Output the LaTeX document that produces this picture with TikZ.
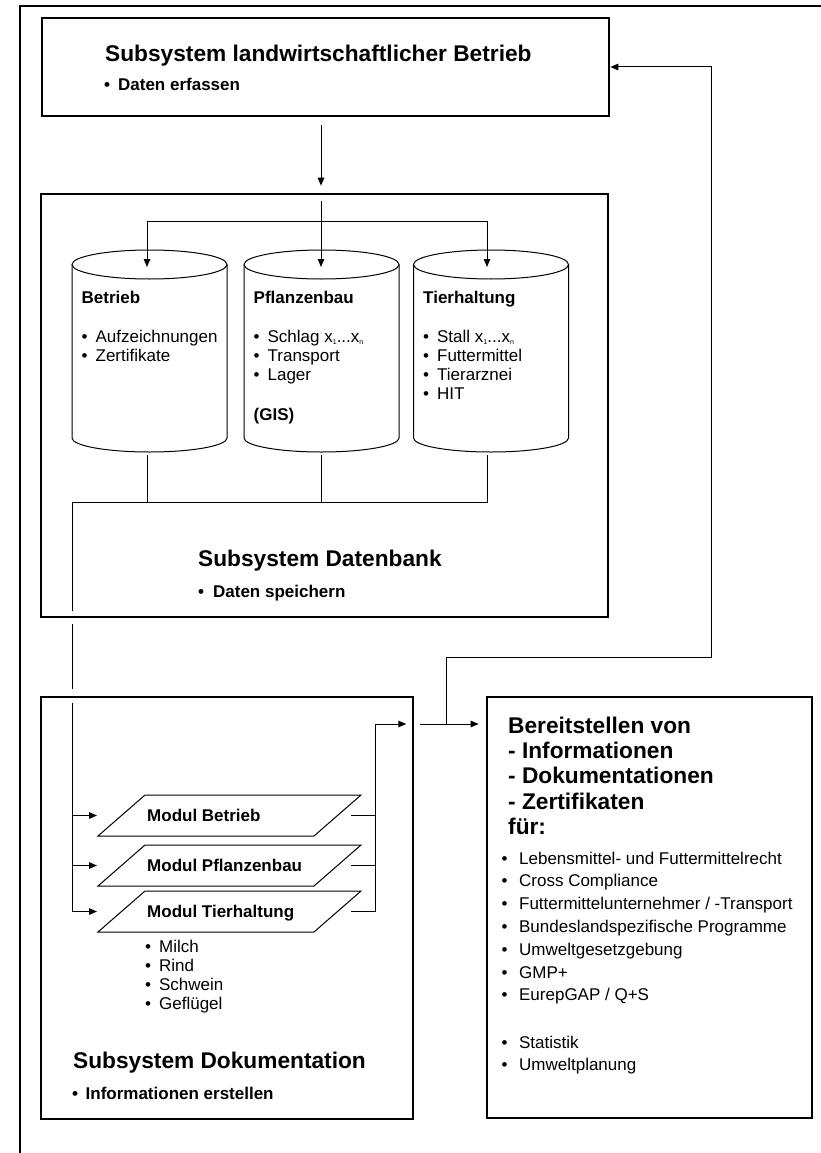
\documentclass[tikz,border=0pt]{standalone}
\usepackage{fontspec}
\setmainfont{Liberation Sans}
\usetikzlibrary{arrows.meta}
\newcommand{\bul}[1][8pt]{\textbullet\hspace{#1}}
\newcommand{\tinysub}[1]{\raisebox{-2pt}{\fontsize{7}{7}\selectfont #1}}
\newcommand{\xrange}[1]{#1\tinysub{1}...#1\tinysub{n}}

\tikzset{
  box/.style={draw, line width=2.6pt, inner sep=0pt},
  conn/.style={line width=1pt},
  arr/.style={conn, -{Triangle[length=8pt,width=6.5pt]}},
  title/.style={font=\fontsize{22.7}{25.4}\selectfont\bfseries, anchor=base west, inner sep=0pt},
  head/.style={font=\fontsize{17}{19}\selectfont\bfseries, anchor=base west, inner sep=0pt},
  txt/.style={font=\fontsize{17}{19}\selectfont, anchor=base west, inner sep=0pt},
}

\begin{document}
\begin{tikzpicture}[x=1pt, y=-1pt]
  \useasboundingbox (0,0) rectangle (821,1153);
  % Frame
  \draw[line width=1.8pt] (20,1153) -- (20,6) -- (821,6);

  % Subsystems
  \node[box, minimum width=567pt, minimum height=98pt] (farm) at (325.5,67) {};
  \node[box, minimum width=567pt, minimum height=423pt] (db) at (324.5,405.5) {};
  \node[box, minimum width=372pt, minimum height=422pt] (doc) at (227,908) {};
  \node[box, minimum width=325pt, minimum height=421pt] (info) at (649.5,907.5) {};

  \node[title] (farmT) at (105,62) {Subsystem landwirtschaftlicher Betrieb};
  \node[head] (farmB) at (104,91) {\bul Daten erfassen};
  \node[title] (dbT) at (198,566) {Subsystem Datenbank};
  \node[head] (dbB) at (198,597) {\bul[9pt]Daten speichern};
  \node[title] (docT) at (73,1068) {Subsystem Dokumentation};
  \node[head] (docB) at (72,1099) {\bul[7.5pt]Informationen erstellen};

  % Databases
  \foreach \n/\cx/\hd in {B/149.5/Betrieb, P/321.5/Pflanzenbau, T/491/Tierhaltung} {
    \draw[conn] (\cx-77.5,264.5) -- (\cx-77.5,438)
      arc[start angle=180, end angle=0, x radius=77.5, y radius=14] -- (\cx+77.5,264.5);
    \draw[conn] (\cx,264.5) ellipse [x radius=77.5, y radius=14.5];
    \node[head] (h\n) at (\cx-68,303) {\hd};
  }
  \foreach \t [count=\k] in {Aufzeichnungen, Zertifikate}
    \node[txt] (lB\k) at (81.5,323+19*\k) {\bul \t};
  \foreach \t [count=\k] in {Schlag \xrange{x}, Transport, Lager}
    \node[txt] (lP\k) at (253.5,323+19*\k) {\bul \t};
  \node[head] (gis) at (253.5,420) {(GIS)};
  \foreach \t [count=\k] in {Stall \xrange{x}, Futtermittel, Tierarznei, HIT}
    \node[txt] (lT\k) at (423,323+19*\k) {\bul \t};

  \coordinate (tB) at (147,267);
  \coordinate (tP) at (321,267);
  \coordinate (tT) at (487,267);
  \coordinate (split) at (321,221);
  \coordinate (bB) at (147,455);
  \coordinate (bP) at (321,455);
  \coordinate (bT) at (487,455);
  \coordinate (busL) at (72,502);

  \draw[arr] ([yshift=-8pt]farm.south -| tP) -- ([yshift=7pt]db.north -| tP);
  \draw[arr] ([yshift=-8pt]db.north -| tP) -- (tP);
  \draw[arr] (split) -| (tB);
  \draw[arr] (split) -| (tT);
  \draw[conn] (bB) -- (bB |- busL);
  \draw[conn] (bP) -- (bP |- busL);
  \draw[conn] (bT) |- (busL) -- ([yshift=7pt]db.south -| busL);
  \draw[conn] ([yshift=-6pt]db.south -| busL) -- ([yshift=7pt]doc.north -| busL);

  % Modules
  \foreach \mname/\ty [count=\i] in {Betrieb/795, Pflanzenbau/845, Tierhaltung/891} {
    \draw[conn] (98,\ty+41) -- (145,\ty) -- (361,\ty) -- (314,\ty+41) -- cycle;
    \node[head] (mod\i) at (147,\ty+26.5) {Modul \mname};
    \coordinate (in\i) at (97,\ty+20.5);
    \coordinate (out\i) at (351,\ty+20.5);
  }
  \foreach \t [count=\k] in {Milch, Rind, Schwein, Geflügel}
    \node[txt] (kind\k) at (145,933+19*\k) {\bul \t};

  \coordinate (busR) at (375,724);
  \coordinate (j) at (446,724);
  \coordinate (fb) at (711,657);

  \draw[conn] ([yshift=-7pt]doc.north -| busL) -- (busL |- in3);
  \foreach \i in {1,2,3} {
    \draw[arr] (busL |- in\i) -- (in\i);
    \draw[conn] (out\i) -- (out\i -| busR);
  }
  \draw[arr] (out3 -| busR) -- (busR) -- ([xshift=-8pt]doc.east |- busR);
  \draw[arr] ([xshift=6pt]doc.east |- busR) -- ([xshift=-7pt]info.west |- busR);
  \draw[arr] (j) |- (fb) |- (farm.east);

  % Output
  \foreach \t [count=\k] in {Bereitstellen von, - Informationen, - Dokumentationen, - Zertifikaten, für:}
    \node[title] (infoT\k) at (508,707.6+25.4*\k) {\t};
  \foreach \t [count=\k] in {Lebensmittel- und Futtermittelrecht, Cross Compliance,
      Futtermittelunternehmer / -Transport, Bundeslandspezifische Programme,
      Umweltgesetzgebung, GMP+, EurepGAP / Q+S}
    \node[txt] (use\k) at (501.5,841.2+22.8*\k) {\bul[11.5pt]\t};
  \foreach \t [count=\k] in {Statistik, Umweltplanung}
    \node[txt] (plan\k) at (501.5,1025.2+22.8*\k) {\bul[11.5pt]\t};
\end{tikzpicture}
\end{document}
